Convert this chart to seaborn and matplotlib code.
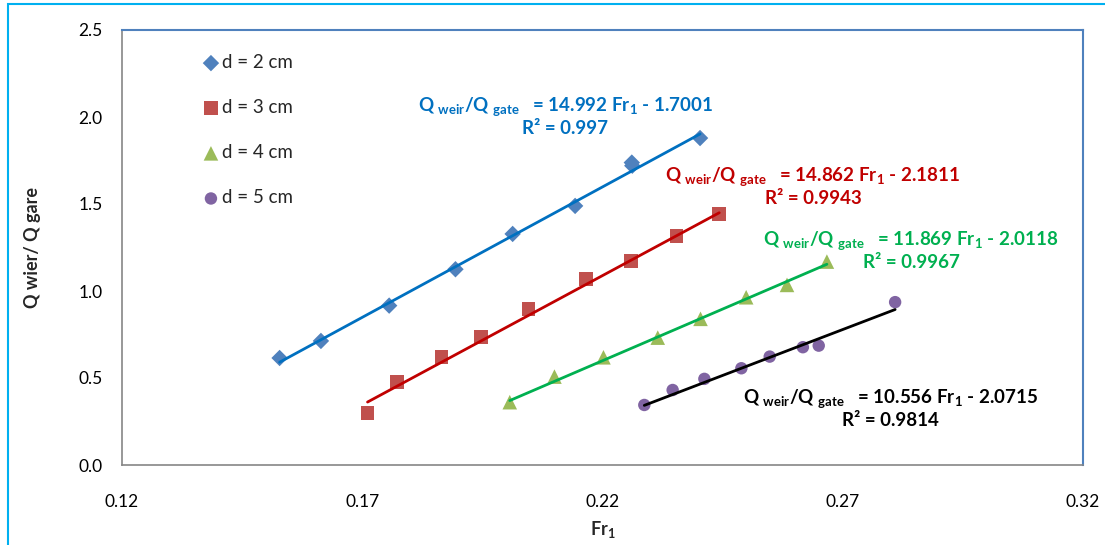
import numpy as np
import pandas as pd
import matplotlib
matplotlib.use("Agg")
import matplotlib.pyplot as plt
import seaborn as sns
from matplotlib.patches import Rectangle

# ---------------------------
# data
# ---------------------------
fr_d2 = [0.1528, 0.1614, 0.1756, 0.1894, 0.2013, 0.2143, 0.2261, 0.2262, 0.2403]
q_d2 = [0.615, 0.713, 0.916, 1.125, 1.328, 1.489, 1.738, 1.720, 1.879]

fr_d3 = [0.1711, 0.1772, 0.1865, 0.1948, 0.2046, 0.2165, 0.2260, 0.2354, 0.2443]
q_d3 = [0.301, 0.478, 0.619, 0.738, 0.895, 1.068, 1.173, 1.317, 1.442]

fr_d4 = [0.2007, 0.2100, 0.2202, 0.2315, 0.2404, 0.2499, 0.2584, 0.2667]
q_d4 = [0.361, 0.508, 0.619, 0.732, 0.840, 0.964, 1.035, 1.169]

fr_d5 = [0.2287, 0.2346, 0.2412, 0.2489, 0.2548, 0.2617, 0.2650, 0.2809]
q_d5 = [0.345, 0.431, 0.495, 0.556, 0.623, 0.677, 0.686, 0.936]

labels = ["d = 2 cm", "d = 3 cm", "d = 4 cm", "d = 5 cm"]
slopes = [14.992, 14.862, 11.869, 10.556]
intercepts = [-1.7001, -2.1811, -2.0118, -2.0715]
r2 = ["0.997", "0.9943", "0.9967", "0.9814"]

# ---------------------------
# styling
# ---------------------------
sns.set_style("white")
plt.rcParams["font.family"] = ["Lato", "DejaVu Sans"]
plt.rcParams["mathtext.fontset"] = "custom"
plt.rcParams["mathtext.rm"] = "Lato"
plt.rcParams["mathtext.bf"] = "Lato:bold"
plt.rcParams["mathtext.default"] = "bf"

marker_cols = ["#4F81BD", "#C0504D", "#9BBB59", "#8064A2"]
line_cols = ["#0070C0", "#C00000", "#00B050", "#000000"]
markers = ["D", "s", "^", "o"]
sizes = [70, 100, 110, 80]

frames = []
for lab, x, y in zip(labels, [fr_d2, fr_d3, fr_d4, fr_d5], [q_d2, q_d3, q_d4, q_d5]):
    frames.append(pd.DataFrame({"Fr": x, "Q": y, "d": lab}))
df = pd.concat(frames, ignore_index=True)

fig = plt.figure(figsize=(11.05, 5.45), dpi=100)
ax = fig.add_axes([122 / 1105, 1 - 465 / 545, 961 / 1105, 435 / 545])

for i, lab in enumerate(labels):
    sub = df[df["d"] == lab]
    sns.scatterplot(data=sub, x="Fr", y="Q", marker=markers[i], s=sizes[i],
                    color=marker_cols[i], edgecolor="none", linewidth=0,
                    ax=ax, label=lab, zorder=3)

# trendlines from the equations shown on the chart
for i, lab in enumerate(labels):
    sub = df[df["d"] == lab]
    xs = np.array([sub["Fr"].min(), sub["Fr"].max()])
    ax.plot(xs, slopes[i] * xs + intercepts[i], color=line_cols[i], lw=2.0, zorder=4)

# equation labels
eq_pos = [(0.461, 0.802), (0.719, 0.641), (0.821, 0.494), (0.800, 0.131)]
for i in range(4):
    txt = (r"Q $_{weir}$/Q $_{gate}$   = " + f"{slopes[i]:.3f}" + r" Fr$_1$ - "
           + f"{abs(intercepts[i]):.4f}" + "\nR² = " + r2[i])
    ax.text(eq_pos[i][0], eq_pos[i][1], txt, transform=ax.transAxes,
            ha="center", va="center", multialignment="center",
            fontsize=13.5, fontweight="bold", color=line_cols[i], linespacing=1.15)

ax.set_xlim(0.12, 0.32)
ax.set_ylim(0, 2.5)
ax.set_xticks([0.12, 0.17, 0.22, 0.27, 0.32])
ax.set_xticklabels(["0.12", "0.17", "0.22", "0.27", "0.32"])
ax.set_yticks([0.0, 0.5, 1.0, 1.5, 2.0, 2.5])
ax.set_yticklabels(["0.0", "0.5", "1.0", "1.5", "2.0", "2.5"])
ax.tick_params(axis="both", labelsize=12.5, colors="#868686", labelcolor="black",
               direction="out", length=5, width=1)
ax.tick_params(axis="x", pad=16)
ax.tick_params(axis="y", pad=9)

ax.set_xlabel(r"Fr$_1$", fontsize=13, fontweight="bold", labelpad=6)
ax.set_ylabel("Q wier/ Q gare", fontsize=13, fontweight="bold", labelpad=27)

for s in ["left", "bottom"]:
    ax.spines[s].set_color("#868686")
    ax.spines[s].set_linewidth(1.2)
for s in ["top", "right"]:
    ax.spines[s].set_color("#4F81BD")
    ax.spines[s].set_linewidth(1.5)

leg = ax.legend(loc="upper left", bbox_to_anchor=(0.075, 0.962), frameon=False,
                fontsize=13.5, handletextpad=0.1, labelspacing=1.5,
                borderaxespad=0, handlelength=1.0)

# outer chart border
fig.patches.append(Rectangle((8 / 1105, -0.05), 1.2, 1 - 4 / 545 + 0.05,
                             transform=fig.transFigure, fill=False,
                             edgecolor="#00B0F0", lw=1.5))

fig.savefig("out.png", dpi=100)
